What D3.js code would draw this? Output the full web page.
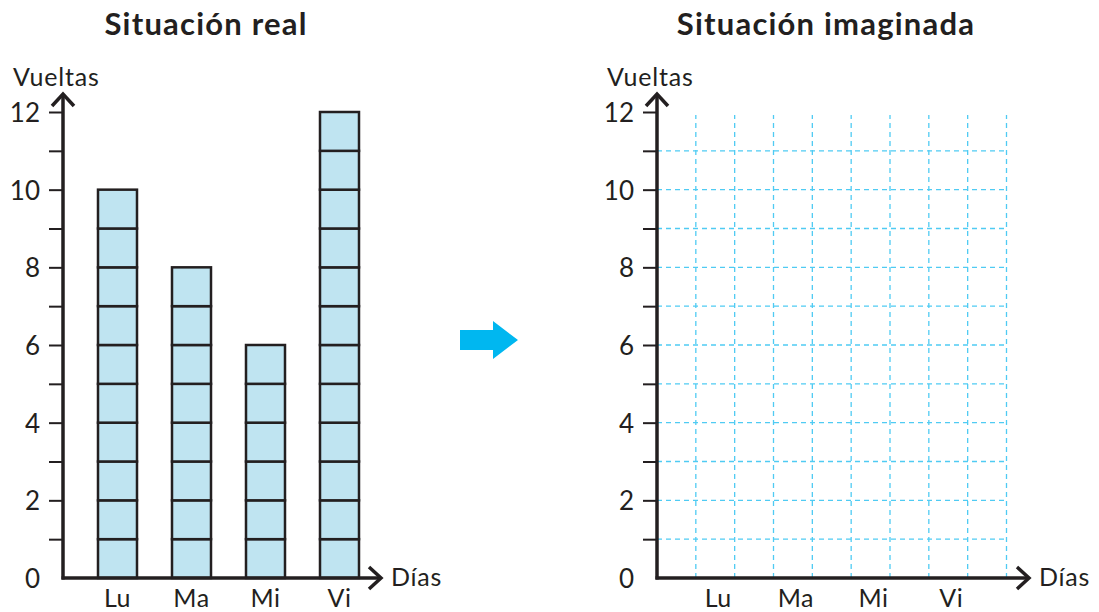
<!DOCTYPE html>
<html>
<head>
<meta charset="utf-8">
<script src="https://cdn.jsdelivr.net/npm/d3@7"></script>
<style>
  html, body { margin: 0; padding: 0; background: #fff; }
  svg { display: block; font-family: Lato, "Open Sans", sans-serif; }
</style>
</head>
<body>
<svg id="chart" width="1099" height="612"></svg>
<script>
// Laps run per day
const days = ["Lu", "Ma", "Mi", "Vi"];
const laps = [10, 8, 6, 12];
const yTicks = [0, 1, 2, 3, 4, 5, 6, 7, 8, 9, 10, 11, 12];
const yTickLabels = ["0", "", "2", "", "4", "", "6", "", "8", "", "10", "", "12"];
const gridColumns = [1, 2, 3, 4, 5, 6, 7, 8, 9];
const gridRows = [1, 2, 3, 4, 5, 6, 7, 8, 9, 10, 11];
const titles = ["Situación real", "Situación imaginada"];

const ink = "#231f20";
const svg = d3.select("#chart");

const yMax = 12;
const plotBase = 578, plotTop = 112;
const y = d3.scaleLinear().domain([0, yMax]).range([plotBase, plotTop]);

function drawYAxis(g, x0, xEnd) {
  const axis = d3.axisLeft(y)
    .tickValues(yTicks)
    .tickSize(14)
    .tickPadding(8)
    .tickFormat((d, i) => yTickLabels[i]);
  const ax = g.append("g").attr("transform", `translate(${x0},0)`).call(axis);
  ax.select(".domain").remove();
  ax.selectAll(".tick line").attr("stroke", ink).attr("stroke-width", 2)
    .filter(d => d === 0).remove();
  ax.selectAll(".tick text").attr("fill", ink).attr("font-size", 26)
    .attr("font-family", "Lato, sans-serif").attr("dy", "0.36em").attr("dx", -1);

  // axes with arrowheads
  g.append("line").attr("x1", x0).attr("x2", x0).attr("y1", plotBase + 1.5).attr("y2", 94)
    .attr("stroke", ink).attr("stroke-width", 3.5);
  g.append("path").attr("d", `M${x0 - 11},${106} L${x0},${94} L${x0 + 11},${106}`)
    .attr("fill", "none").attr("stroke", ink).attr("stroke-width", 3.5);
  g.append("line").attr("x1", x0 - 1.5).attr("x2", xEnd).attr("y1", plotBase).attr("y2", plotBase)
    .attr("stroke", ink).attr("stroke-width", 3.5);
  g.append("path").attr("d", `M${xEnd - 12},${plotBase - 11} L${xEnd},${plotBase} L${xEnd - 12},${plotBase + 11}`)
    .attr("fill", "none").attr("stroke", ink).attr("stroke-width", 3.5);

  g.append("text").attr("x", x0 - 50).attr("y", 86).attr("font-size", 25)
    .attr("letter-spacing", 0.8).attr("fill", ink).text("Vueltas");
  g.append("text").attr("x", xEnd + 10).attr("y", plotBase + 8).attr("font-size", 25)
    .attr("letter-spacing", 0.8).attr("fill", ink).text("Días");
}

function drawTitle(g, cx, text) {
  g.append("text").attr("x", cx).attr("y", 35).attr("text-anchor", "middle")
    .attr("font-size", 31).attr("font-weight", "bold").attr("letter-spacing", 1.2)
    .attr("fill", ink).text(text);
}

// ---- Left chart: real situation ----
const left = svg.append("g");
const xL = d3.scaleBand().domain(days).range([63, 394]).paddingInner(0.473).paddingOuter(0.473);

drawTitle(left, 206, titles[0]);

const cells = [];
days.forEach((d, i) => {
  for (let k = 0; k < laps[i]; k++) cells.push({ day: d, k });
});
left.selectAll("rect.cell").data(cells).join("rect")
  .attr("class", "cell")
  .attr("x", c => xL(c.day))
  .attr("width", xL.bandwidth())
  .attr("y", c => y(c.k + 1))
  .attr("height", c => y(c.k) - y(c.k + 1))
  .attr("fill", "#bfe4f1")
  .attr("stroke", ink)
  .attr("stroke-width", 2.5);

left.selectAll("text.day").data(days).join("text")
  .attr("class", "day")
  .attr("x", d => xL(d) + xL.bandwidth() / 2)
  .attr("y", 607)
  .attr("text-anchor", "middle")
  .attr("font-size", 25)
  .attr("letter-spacing", 0.5)
  .attr("fill", ink)
  .text(d => d);

drawYAxis(left, 63, 381);

// ---- Right chart: imagined situation (empty grid) ----
const right = svg.append("g");
const x0R = 657;
const cellW = y(0) - y(1);
const xR = d3.scaleLinear().domain([0, 9]).range([x0R, x0R + 9 * cellW]);

drawTitle(right, 826, titles[1]);

const gridStyle = sel => sel.attr("stroke", "#4fcbf3").attr("stroke-width", 1.3)
  .attr("stroke-dasharray", "5,4");

right.selectAll("line.vgrid").data(gridColumns).join("line")
  .attr("class", "vgrid")
  .attr("x1", d => xR(d)).attr("x2", d => xR(d))
  .attr("y1", plotBase).attr("y2", y(yMax) + 3)
  .call(gridStyle);
right.selectAll("line.hgrid").data(gridRows).join("line")
  .attr("class", "hgrid")
  .attr("x1", x0R).attr("x2", xR(9))
  .attr("y1", d => y(d)).attr("y2", d => y(d))
  .call(gridStyle);

right.selectAll("text.day").data(days).join("text")
  .attr("class", "day")
  .attr("x", (d, i) => xR(2 * i + 1.5) + 3)
  .attr("y", 607)
  .attr("text-anchor", "middle")
  .attr("font-size", 25)
  .attr("letter-spacing", 0.5)
  .attr("fill", ink)
  .text(d => d);

drawYAxis(right, x0R, 1029);

// ---- Arrow between the charts ----
svg.append("path")
  .attr("d", "M460,330 L493,330 L493,321 L518,340 L493,359 L493,350 L460,350 Z")
  .attr("fill", "#00b7f0");
</script>
</body>
</html>
